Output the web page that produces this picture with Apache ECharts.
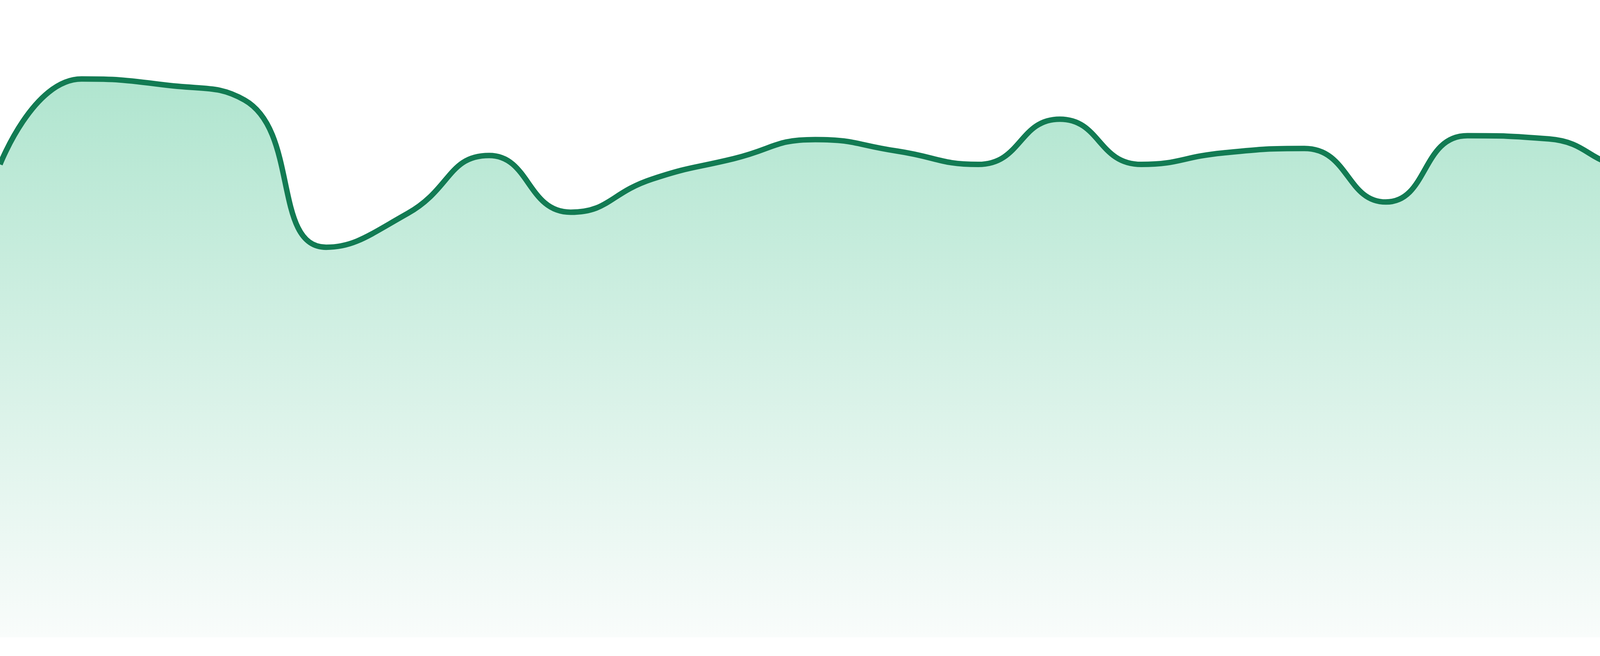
<!DOCTYPE html>
<html>
<head>
<meta charset="utf-8">
<title>area</title>
<script src="https://cdn.jsdelivr.net/npm/echarts@6/dist/echarts.min.js"></script>
<style>
  html, body { margin: 0; padding: 0; background: #fff; }
  #chartmain { width: 4800px; height: 1680px; }
</style>
</head>
<body>
<div id="chartmain"></div>
<script>
// data (24 evenly spaced points, hidden axes)
var days = [];
for (var i = 1; i <= 24; i++) days.push('D' + i);
var values = [74.2, 87.6, 86.7, 84.3, 61.2, 66.5, 75.6, 66.7, 71.9, 75.1, 78.1, 76.3,
              74.2, 81.3, 74.2, 76.0, 76.7, 68.3, 78.7, 78.2, 74.0, 76.5, 81.0, 63.7];
var yMin = 0, yMax = 100;

var option = {
    animation: false,
    grid: { left: 0, right: 0, top: 0, bottom: 48 },
    xAxis: {
        type: 'category',
        boundaryGap: false,
        data: days,
        show: false
    },
    yAxis: {
        type: 'value',
        min: yMin,
        max: yMax,
        show: false
    },
    series: [
        {
            type: 'line',
            data: values,
            smooth: true,
            symbol: 'none',
            lineStyle: { color: '#127b53', width: 14 },
            areaStyle: {
                opacity: 1,
                color: new echarts.graphic.LinearGradient(0, 0, 0, 1, [
                    { offset: 0, color: '#b0e5cf' },
                    { offset: 1, color: '#f9fcfb' }
                ])
            }
        }
    ]
};

var myChart = echarts.init(document.getElementById('chartmain'));
myChart.setOption(option);
</script>
</body>
</html>
